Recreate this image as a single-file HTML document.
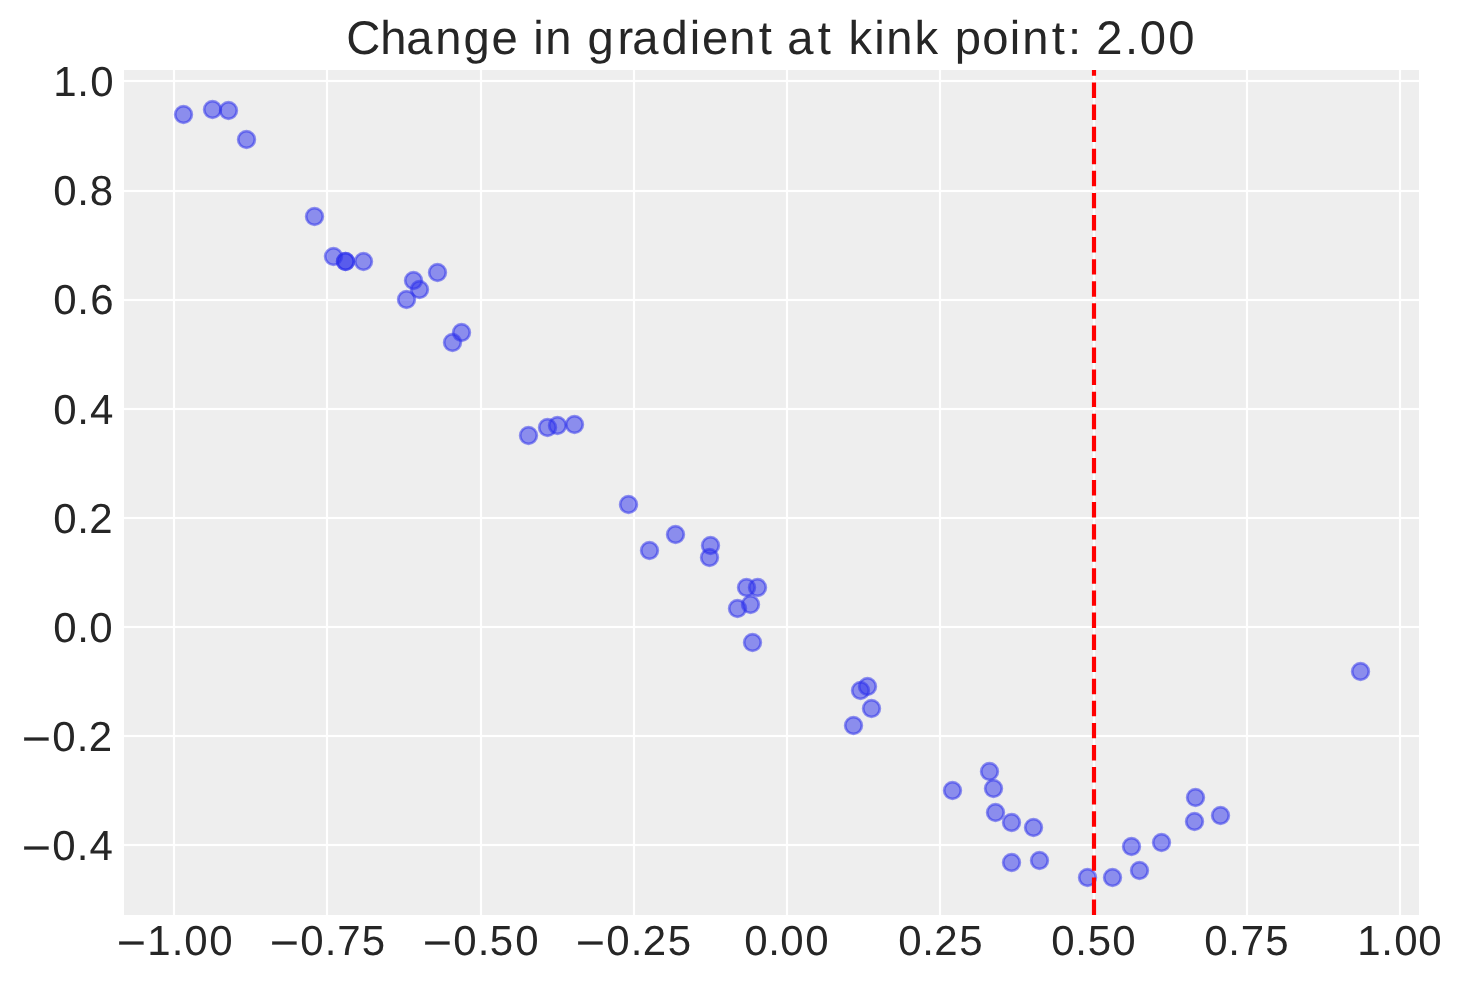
<!DOCTYPE html>
<html lang="en">
<head>
<meta charset="utf-8">
<title>Change in gradient at kink point: 2.00</title>
<style>
html,body{margin:0;padding:0;background:#fff;}
body{width:1463px;height:983px;overflow:hidden;}
svg{display:block;will-change:transform;}
text{font-family:"Liberation Sans",sans-serif;fill:#262626;text-rendering:geometricPrecision;}
.g rect{fill:#fff;}
.m circle{fill:#2a2eec;fill-opacity:.505;stroke:#2a2eec;stroke-opacity:.505;stroke-width:2.78;}
</style>
</head>
<body>
<svg width="1463" height="983" viewBox="0 0 1463 983">
<rect x="0" y="0" width="1463" height="983" fill="#ffffff"/>
<rect x="124" y="70" width="1295" height="845" fill="#eeeeee"/>
<g class="g">
<rect x="172.89" y="70" width="2.22" height="845"/>
<rect x="325.89" y="70" width="2.22" height="845"/>
<rect x="479.89" y="70" width="2.22" height="845"/>
<rect x="632.89" y="70" width="2.22" height="845"/>
<rect x="785.89" y="70" width="2.22" height="845"/>
<rect x="938.89" y="70" width="2.22" height="845"/>
<rect x="1092.89" y="70" width="2.22" height="845"/>
<rect x="1245.89" y="70" width="2.22" height="845"/>
<rect x="1398.89" y="70" width="2.22" height="845"/>
<rect x="124" y="79.89" width="1295" height="2.22"/>
<rect x="124" y="189.89" width="1295" height="2.22"/>
<rect x="124" y="298.89" width="1295" height="2.22"/>
<rect x="124" y="407.89" width="1295" height="2.22"/>
<rect x="124" y="516.89" width="1295" height="2.22"/>
<rect x="124" y="625.89" width="1295" height="2.22"/>
<rect x="124" y="734.89" width="1295" height="2.22"/>
<rect x="124" y="843.89" width="1295" height="2.22"/>
</g>
<g class="m">
<circle cx="183.5" cy="114.5" r="8.33"/>
<circle cx="212.5" cy="109.5" r="8.33"/>
<circle cx="228.5" cy="110.5" r="8.33"/>
<circle cx="246.5" cy="139.5" r="8.33"/>
<circle cx="314.5" cy="216.5" r="8.33"/>
<circle cx="333.5" cy="256.5" r="8.33"/>
<circle cx="345.5" cy="261.5" r="8.33"/>
<circle cx="345.5" cy="261.5" r="8.33"/>
<circle cx="363.5" cy="261.5" r="8.33"/>
<circle cx="413.5" cy="280.5" r="8.33"/>
<circle cx="419.5" cy="289.5" r="8.33"/>
<circle cx="406.5" cy="299.5" r="8.33"/>
<circle cx="437.5" cy="272.5" r="8.33"/>
<circle cx="461.5" cy="332.5" r="8.33"/>
<circle cx="452.5" cy="342.5" r="8.33"/>
<circle cx="528.5" cy="435.5" r="8.33"/>
<circle cx="547.5" cy="427.5" r="8.33"/>
<circle cx="557.5" cy="425.5" r="8.33"/>
<circle cx="574.5" cy="424.5" r="8.33"/>
<circle cx="628.5" cy="504.5" r="8.33"/>
<circle cx="649.5" cy="550.5" r="8.33"/>
<circle cx="675.5" cy="534.5" r="8.33"/>
<circle cx="710.5" cy="545.5" r="8.33"/>
<circle cx="709.5" cy="557.5" r="8.33"/>
<circle cx="746.5" cy="587.5" r="8.33"/>
<circle cx="757.5" cy="587.5" r="8.33"/>
<circle cx="750.5" cy="604.5" r="8.33"/>
<circle cx="737.5" cy="608.5" r="8.33"/>
<circle cx="752.5" cy="642.5" r="8.33"/>
<circle cx="860.5" cy="690.5" r="8.33"/>
<circle cx="867.5" cy="686.5" r="8.33"/>
<circle cx="871.5" cy="708.5" r="8.33"/>
<circle cx="853.5" cy="725.5" r="8.33"/>
<circle cx="952.5" cy="790.5" r="8.33"/>
<circle cx="989.5" cy="771.5" r="8.33"/>
<circle cx="993.5" cy="788.5" r="8.33"/>
<circle cx="995.5" cy="812.5" r="8.33"/>
<circle cx="1011.5" cy="822.5" r="8.33"/>
<circle cx="1033.5" cy="827.5" r="8.33"/>
<circle cx="1011.5" cy="862.5" r="8.33"/>
<circle cx="1039.5" cy="860.5" r="8.33"/>
<circle cx="1087.5" cy="877.5" r="8.33"/>
<circle cx="1112.5" cy="877.5" r="8.33"/>
<circle cx="1131.5" cy="846.5" r="8.33"/>
<circle cx="1139.5" cy="870.5" r="8.33"/>
<circle cx="1161.5" cy="842.5" r="8.33"/>
<circle cx="1195.5" cy="797.5" r="8.33"/>
<circle cx="1194.5" cy="821.5" r="8.33"/>
<circle cx="1220.5" cy="815.5" r="8.33"/>
<circle cx="1360.5" cy="671.5" r="8.33"/>
</g>
<line x1="1094" y1="915" x2="1094" y2="70" stroke="#ff0000" stroke-width="4.17" stroke-dasharray="15.417 6.667"/>
<g class="title"><text x="346.16 380.27 406.37 435.34 463.40 491.42 517.67 533.27 545.34 571.59 587.40 617.47 632.37 661.40 689.77 701.92 729.34 758.76 771.87 787.37 817.76 830.87 848.58 874.27 886.34 914.58 938.18 954.84 982.37 1009.77 1022.34 1051.76 1067.94 1081.06 1096.37 1124.94 1139.87 1168.37" y="54.00" font-size="47.20">Change in gradient at kink point: 2.00</text></g>
<g class="yticks">
<text x="53.25 77.17 90.32" y="96.00" font-size="42.00">1.0</text>
<text x="53.32 77.17 89.82" y="205.00" font-size="42.00">0.8</text>
<text x="53.32 77.17 90.18" y="314.00" font-size="42.00">0.6</text>
<text x="53.32 77.17 89.95" y="424.00" font-size="42.00">0.4</text>
<text x="53.32 77.17 89.32" y="533.00" font-size="42.00">0.2</text>
<text x="53.32 77.17 89.32" y="642.00" font-size="42.00">0.0</text>
<text y="751.00" font-size="42.00"><tspan x="21.89" dy="1.60" textLength="29.19" lengthAdjust="spacingAndGlyphs" stroke="#262626" stroke-width="0.25">−</tspan><tspan x="52.32 76.67 88.82" dy="-1.60">0.2</tspan></text>
<text y="860.00" font-size="42.00"><tspan x="21.89" dy="1.60" textLength="29.19" lengthAdjust="spacingAndGlyphs" stroke="#262626" stroke-width="0.25">−</tspan><tspan x="52.32 76.67 89.45" dy="-1.60">0.4</tspan></text>
</g>
<g class="xticks">
<text y="955.00" font-size="42.00"><tspan x="116.89" dy="1.60" textLength="29.19" lengthAdjust="spacingAndGlyphs" stroke="#262626" stroke-width="0.25">−</tspan><tspan x="147.25 171.67 184.32 209.32" dy="-1.60">1.00</tspan></text>
<text y="955.00" font-size="42.00"><tspan x="269.89" dy="1.60" textLength="29.19" lengthAdjust="spacingAndGlyphs" stroke="#262626" stroke-width="0.25">−</tspan><tspan x="300.32 324.67 337.30 361.86" dy="-1.60">0.75</tspan></text>
<text y="955.00" font-size="42.00"><tspan x="422.89" dy="1.60" textLength="29.19" lengthAdjust="spacingAndGlyphs" stroke="#262626" stroke-width="0.25">−</tspan><tspan x="453.32 477.67 489.86 515.32" dy="-1.60">0.50</tspan></text>
<text y="955.00" font-size="42.00"><tspan x="575.89" dy="1.60" textLength="29.19" lengthAdjust="spacingAndGlyphs" stroke="#262626" stroke-width="0.25">−</tspan><tspan x="606.32 630.67 642.82 667.86" dy="-1.60">0.25</tspan></text>
<text x="744.32 768.17 780.32 805.32" y="955.00" font-size="42.00">0.00</text>
<text x="898.32 922.17 934.32 959.36" y="955.00" font-size="42.00">0.25</text>
<text x="1051.32 1075.17 1087.86 1112.32" y="955.00" font-size="42.00">0.50</text>
<text x="1204.32 1228.17 1240.80 1265.36" y="955.00" font-size="42.00">0.75</text>
<text x="1357.25 1381.17 1394.32 1418.32" y="955.00" font-size="42.00">1.00</text>
</g>
</svg>
</body>
</html>
